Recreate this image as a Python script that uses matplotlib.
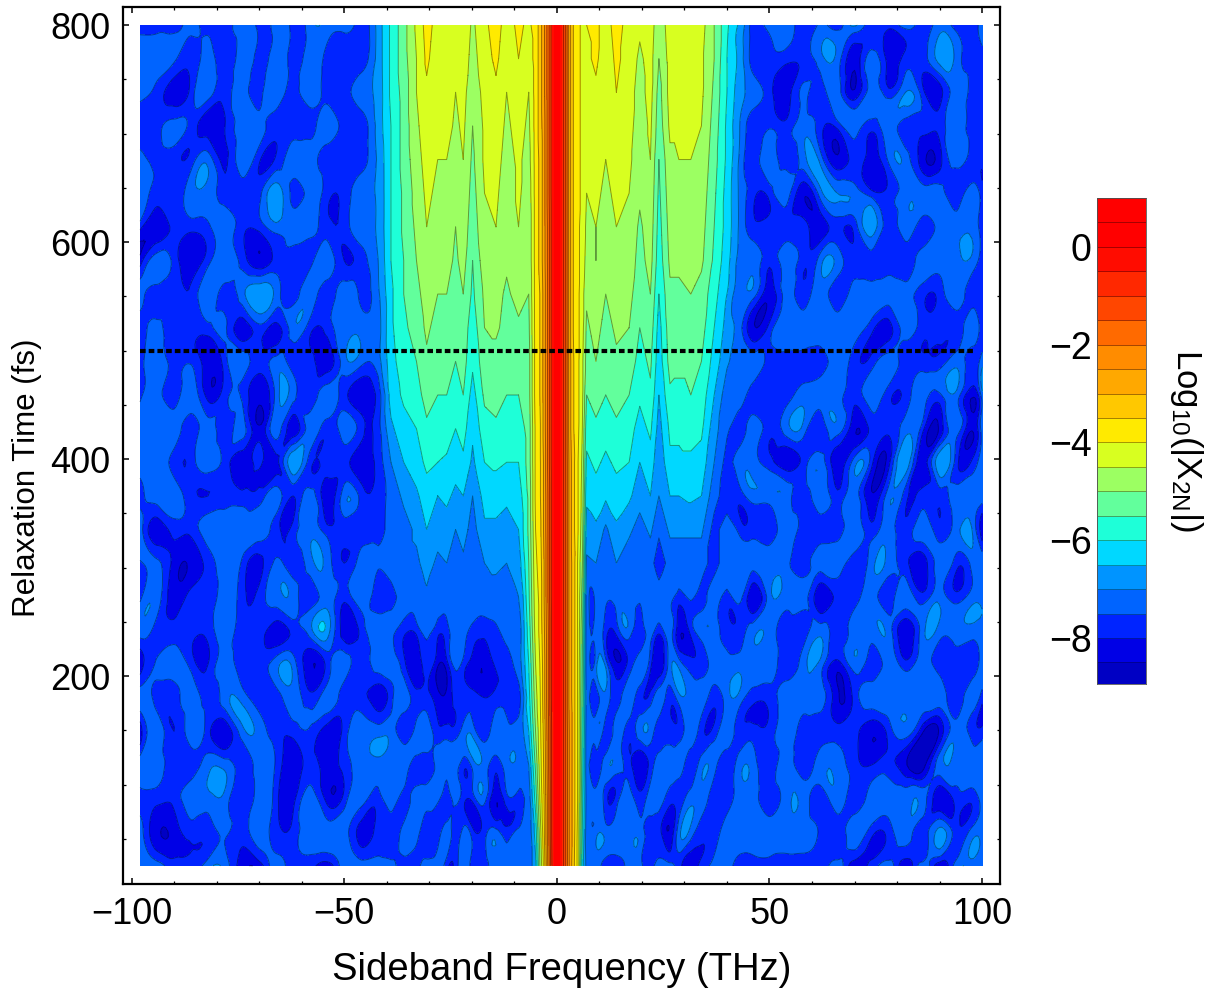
import numpy as np
import matplotlib
matplotlib.use("Agg")
import matplotlib.pyplot as plt
import matplotlib.tri as mtri
from matplotlib.ticker import MultipleLocator

plt.rcParams['font.family'] = ['Liberation Sans', 'DejaVu Sans']
plt.rcParams['mathtext.fontset'] = 'custom'
plt.rcParams['mathtext.rm'] = 'Liberation Sans'
plt.rcParams['mathtext.default'] = 'regular'

# relaxation time rows, top of the picture first (fs)
times = [800,769,738,707,676,645,614,583,552,521,490,459,428,397,366,335,304,273,242,211,180,149,118,87,56,25]

# all tables hold -Log10(|X2N|) in tenths
left_freqs = [-98,-94,-90,-86,-82,-78,-74,-70,-66,-62,-58,-54,-50,-46,-42]
left_noise = [
 [77,77,78,73,78,77,72,77,72,77,72,72,73,77,68],
 [72,72,74,78,73,79,72,77,72,77,72,77,78,78,68],
 [73,77,83,78,72,78,72,77,71,77,72,77,78,72,68],
 [79,77,73,77,83,80,72,73,78,78,77,72,78,78,68],
 [73,76,78,78,72,81,72,79,79,72,72,78,78,77,69],
 [72,77,78,72,72,78,78,77,67,77,72,78,78,72,69],
 [78,84,78,78,76,72,78,78,72,72,72,78,78,72,69],
 [83,72,77,83,77,72,77,84,78,77,77,72,80,77,70],
 [73,77,77,79,71,77,72,66,72,77,72,78,72,76,71],
 [77,74,78,78,77,74,83,77,82,72,78,78,72,72,72],
 [77,72,77,76,83,77,72,78,73,77,78,83,72,73,72],
 [77,72,78,72,82,77,76,84,73,73,78,72,78,84,78],
 [73,72,72,78,72,78,73,84,72,83,72,78,72,78,77],
 [72,72,77,78,72,77,84,79,82,66,78,77,78,83,78],
 [77,72,72,78,80,78,78,78,72,80,72,83,72,77,78],
 [72,83,78,78,72,72,72,72,78,78,72,78,78,78,77],
 [76,74,82,84,78,72,76,82,74,78,72,72,80,72,74],
 [77,72,83,78,78,72,78,78,72,72,78,72,78,72,78],
 [72,77,78,78,78,72,78,78,83,78,72,67,83,78,72],
 [83,74,72,77,80,72,78,78,72,72,84,78,72,78,72],
 [72,77,78,72,78,72,72,78,78,72,78,72,78,78,83],
 [83,72,80,72,78,84,72,72,78,78,76,83,78,72,72],
 [72,72,78,78,72,72,78,72,76,83,78,82,78,72,72],
 [77,78,78,72,72,72,80,72,78,82,72,82,78,72,77],
 [72,84,83,78,78,74,78,72,78,78,72,72,72,82,78],
 [74,72,78,78,72,72,83,83,72,78,78,83,72,72,72],
]

# central region, one list per frequency column, same time order
core_freqs = [-39,-36,-33,-30.6,-28,-25.9,-23.8,-22,-19.8,-17,-14.3,-11.8,-9,-6.6,-5,-4,-3,-2,-1,0,1,2,3,4,5,6,7,
              9.2,11.5,14,17,19.5,22,24,26.6,28.7,31.5,34,37,40,43]
core_columns = [
 [59,59,59,60,60,60,60,60,61,61,62,63,66,70,73,73,72,77,73,72,77,72,72,72,77,73],
 [52,52,53,53,53,54,54,55,55,56,57,59,62,65,69,72,72,73,78,78,72,78,72,77,73,78],
 [44,45,45,46,47,48,49,50,52,53,55,57,60,62,66,69,71,72,78,84,78,73,78,72,73,77],
 [38,39,41,42,43,44,45,46,47,49,51,53,56,59,62,65,68,71,73,77,78,72,78,73,78,72],
 [42,43,44,44,45,46,47,48,50,52,53,55,58,60,65,68,71,73,78,84,83,78,73,73,78,73],
 [41,42,42,43,45,46,47,48,50,51,53,55,57,61,64,67,70,72,77,82,84,78,72,78,72,78],
 [43,44,45,46,47,49,50,51,52,54,55,58,60,63,66,70,72,73,72,73,78,78,72,73,78,78],
 [41,42,43,44,45,46,47,48,50,52,53,55,58,61,65,68,71,73,72,77,78,73,78,78,73,72],
 [46,47,49,50,51,52,53,55,56,58,59,62,64,66,70,72,73,72,77,82,78,72,73,78,78,77],
 [41,42,43,44,44,45,46,47,49,50,52,54,57,60,63,66,70,72,78,84,80,78,72,73,77,78],
 [38,39,41,42,43,44,45,46,48,49,52,53,56,59,63,66,69,72,76,79,78,72,78,84,73,72],
 [42,43,45,46,47,48,48,49,51,52,53,55,58,60,64,67,70,72,73,78,78,73,72,77,78,73],
 [39,40,42,43,44,44,45,47,48,51,52,55,58,60,63,65,68,70,72,72,77,73,72,77,73,72],
 [41,43,45,46,47,48,49,49,50,51,52,52,53,53,54,54,55,56,58,60,62,65,70,73,74,74],
 [38,38,38,38,38,38,38,38,38,38,38,38,39,39,39,40,41,42,43,45,47,50,54,58,63,66],
 [33,33,33,33,34,34,34,34,35,35,35,35,36,36,36,37,38,39,39,40,41,42,43,45,48,50],
 [26,26,26,27,27,27,27,27,28,28,28,28,28,29,29,29,30,30,31,32,32,33,34,35,36,38],
 [17,17,17,17,17,17,18,18,18,18,18,18,18,18,19,19,19,19,20,20,20,21,21,22,22,23],
 [6,6,6,6,6,6,6,6,6,6,6,6,6,6,6,6,6,6,6,6,6,7,7,7,7,8],
 [-8,-8,-8,-8,-8,-8,-8,-8,-8,-8,-8,-8,-8,-8,-8,-8,-8,-8,-8,-8,-8,-8,-8,-8,-8,-8],
 [4,4,4,4,4,4,4,4,4,4,4,4,4,4,4,4,4,4,4,4,4,4,4,4,4,4],
 [14,14,14,14,14,14,14,14,14,14,14,14,14,14,14,14,14,14,14,14,14,14,14,14,14,14],
 [28,28,28,28,28,28,28,28,28,28,28,28,28,27,27,27,27,27,27,27,27,26,26,26,26,26],
 [36,36,36,36,36,36,36,36,36,36,35,35,35,34,34,34,33,33,33,33,33,33,33,33,33,34],
 [39,39,39,39,39,39,39,39,39,39,39,39,39,40,40,40,41,41,41,41,41,41,41,41,42,42],
 [41,41,41,41,41,41,42,42,43,43,44,44,45,46,47,48,50,52,54,55,56,57,58,59,60,62],
 [40,41,42,43,44,45,46,47,49,51,52,55,58,61,64,67,71,73,73,73,72,73,73,72,73,72],
 [39,39,41,42,43,44,45,45,47,48,50,53,56,59,62,66,70,73,72,72,78,72,78,72,72,72],
 [42,43,44,44,45,46,47,49,50,52,53,55,58,61,64,71,72,73,78,72,72,78,72,78,72,78],
 [38,39,40,41,43,44,45,46,47,49,51,53,56,59,62,66,70,72,78,84,78,72,72,78,72,78],
 [42,42,43,43,44,45,46,47,48,50,52,55,58,60,64,69,73,73,72,78,72,78,78,72,72,73],
 [44,46,47,48,48,49,51,52,54,55,57,59,62,65,68,72,73,73,78,72,78,72,84,78,72,72],
 [42,43,43,44,45,46,47,48,50,52,54,56,59,62,65,69,73,72,72,78,78,72,78,72,78,78],
 [49,50,52,53,55,56,57,58,60,62,63,65,67,69,70,74,78,73,78,84,72,78,72,72,78,72],
 [42,43,43,44,46,47,48,49,51,52,53,56,59,61,65,69,73,73,72,72,78,78,72,78,84,73],
 [41,42,43,44,45,47,48,49,51,53,54,56,59,61,65,69,73,77,83,72,72,78,72,78,72,78],
 [41,42,43,44,45,46,47,48,50,52,54,55,58,61,64,69,73,74,78,78,72,72,78,72,72,84],
 [43,44,44,45,46,47,48,49,52,53,55,57,59,62,65,69,73,77,72,78,72,78,72,72,78,78],
 [50,50,51,52,53,54,55,56,58,60,62,65,68,70,73,77,77,72,72,72,78,78,73,78,78,73],
 [59,60,60,61,61,62,62,63,65,67,69,73,74,77,78,72,72,77,78,72,72,72,78,78,72,72],
 [66,67,68,70,71,71,71,72,73,73,73,72,78,72,78,77,72,73,78,72,72,78,72,72,72,78],
]

right_freqs = [46,50,54,58,62,66,70,74,78,82,86,90,94,98,100]
right_noise = [
 [77,72,72,78,74,78,69,78,78,72,78,72,78,78,72],
 [77,78,78,78,72,72,83,72,82,78,78,68,72,78,77],
 [72,78,83,74,78,72,84,72,78,70,78,82,72,78,78],
 [78,76,78,72,78,78,72,78,72,78,78,78,72,78,78],
 [78,72,78,72,72,84,78,82,74,72,83,82,72,78,78],
 [78,78,72,84,72,70,72,78,78,72,72,72,78,72,78],
 [78,78,78,78,83,78,78,67,78,72,78,72,72,72,78],
 [72,78,72,78,72,72,78,78,78,78,72,72,72,72,78],
 [72,83,73,78,72,78,72,72,72,73,78,78,72,78,78],
 [84,78,72,72,72,72,72,78,82,72,78,78,78,72,78],
 [72,77,78,78,78,72,78,78,72,78,78,78,72,78,72],
 [78,78,78,72,72,72,78,72,78,78,73,76,72,84,72],
 [72,78,72,72,78,72,84,78,78,72,78,84,72,84,72],
 [72,78,83,78,72,83,72,78,82,66,83,66,78,78,72],
 [72,72,72,78,72,78,72,84,72,78,78,78,72,72,72],
 [78,78,72,78,78,78,72,78,72,78,72,78,72,72,84],
 [72,72,73,78,72,72,78,72,72,78,83,72,78,72,72],
 [84,72,72,72,84,78,78,72,78,72,78,72,78,72,72],
 [72,72,78,78,72,78,72,72,72,84,72,72,72,72,72],
 [72,72,78,72,72,82,72,78,72,78,72,78,78,78,72],
 [78,78,72,72,72,84,78,72,72,72,72,72,78,72,78],
 [78,78,72,78,78,78,78,84,78,72,84,84,72,78,78],
 [72,78,72,78,72,72,78,80,78,84,88,72,72,72,72],
 [72,78,72,72,78,72,78,72,72,72,72,84,78,78,72],
 [72,72,72,72,76,78,72,78,78,72,78,68,78,72,72],
 [78,78,78,78,78,72,84,78,72,84,72,84,72,72,72],
]

levels = [-9,-8.5,-8,-7.5,-7,-6.5,-6,-5.5,-5,-4.5,-4,-3.5,-3,-2.5,-2,-1.5,-1,-0.5,0,0.5,1]
band_colors = ['#0000c4','#0000e6','#0024ff','#0064ff','#0094ff','#00d8ff','#1effd8','#62ff9c',
               '#9cff62','#d8ff20','#ffea00','#ffc800','#ffa800','#ff8c00','#ff6a00','#ff4600',
               '#ff2800','#ff0c00','#ff0000','#ff0000']

guide_time = [500, 500]
guide_freq = [-98, 98]
x_ticks = [-100, -50, 0, 50, 100]
x_tick_labels = ['\u2212100', '\u221250', '0', '50', '100']
y_ticks = [200, 400, 600, 800]
cb_ticks = [0, -2, -4, -6, -8]
cb_tick_labels = ['0', '\u22122', '\u22124', '\u22126', '\u22128']

freqs = np.array(left_freqs + core_freqs + right_freqs, dtype=float)
Z = -np.hstack([np.array(left_noise), np.array(core_columns).T, np.array(right_noise)]) / 10.0
t = np.array(times, dtype=float)[::-1]
Z = Z[::-1]

# matplotlib's own refinement of the read grid: smooth in the noise floor, straight-sided in the
# plateau fingers and the central ridge, as in the reference.
# Each cell is split along the diagonal whose two corners agree best.
FF, TT = np.meshgrid(freqs, t)
nx, ny = len(freqs), len(t)
idx = np.arange(nx * ny).reshape(ny, nx)
tris = []
for j in range(ny - 1):
    for i in range(nx - 1):
        a, b, c, d = idx[j, i], idx[j, i + 1], idx[j + 1, i + 1], idx[j + 1, i]
        za, zb, zc, zd = Z[j, i], Z[j, i + 1], Z[j + 1, i + 1], Z[j + 1, i]
        if abs(zb - zd) + 0.25 < abs(za - zc):
            tris += [[a, b, d], [b, c, d]]
        else:
            tris += [[a, b, c], [a, c, d]]
tri = mtri.Triangulation(FF.ravel(), TT.ravel(), np.array(tris))
tri_fine, z_smooth = mtri.UniformTriRefiner(tri).refine_field(Z.ravel(), subdiv=3)
z_straight = np.ma.filled(mtri.LinearTriInterpolator(tri, Z.ravel())(tri_fine.x, tri_fine.y), np.nan)
z_straight = np.where(np.isnan(z_straight), z_smooth, z_straight)
plateau = np.clip((44 - np.abs(tri_fine.x)) / 5, 0, 1) * np.clip((tri_fine.y - 250) / 50, 0, 1)
ridge = np.clip((9 - np.abs(tri_fine.x)) / 2, 0, 1)
w = np.maximum(plateau, ridge)
z_fine = np.clip(w * z_straight + (1 - w) * z_smooth, -8.95, 0.95)

W, H = 1215, 994
fig = plt.figure(figsize=(W / 100, H / 100), dpi=100)
ax = fig.add_axes([123 / W, (H - 884) / H, 877 / W, 877 / H])
ax.tricontourf(tri_fine, z_fine, levels=levels, colors=band_colors, antialiased=False)
ax.tricontour(tri_fine, z_fine, levels=[v for v in levels if v < -0.5], colors='black',
              linewidths=0.7, alpha=0.4, linestyles='solid')
ax.plot(guide_freq, guide_time, color='black', lw=3.0, dashes=(1.35, 0.74))
ax.set_xlim(-102, 104.2)
ax.set_ylim(8.3, 816.6)
ax.set_xticks(x_ticks, x_tick_labels)
ax.set_yticks(y_ticks)
ax.xaxis.set_minor_locator(MultipleLocator(10))
ax.yaxis.set_minor_locator(MultipleLocator(50))
ax.tick_params(which='major', direction='in', length=4, width=1.1, top=True, right=True, labelsize=26, pad=9)
ax.tick_params(which='minor', direction='in', length=2.5, width=0.9, top=True, right=True)
for s in ax.spines.values():
    s.set_linewidth(1.6)
fig.text(562 / W, (H - 970) / H, 'Sideband Frequency (THz)', fontsize=27.5, ha='center', va='center')
fig.text(27 / W, (H - 478) / H, 'Relaxation Time (fs)', fontsize=22.5, rotation=90, ha='center', va='center')

cax = fig.add_axes([1097 / W, (H - 684) / H, 49 / W, 486 / H])
cax.pcolormesh([0, 1], levels, np.array(levels[:-1]).reshape(-1, 1) + 0.25,
               cmap=matplotlib.colors.ListedColormap(band_colors),
               norm=matplotlib.colors.BoundaryNorm(levels, len(band_colors)),
               edgecolors=(0, 0, 0, 0.35), linewidth=0.6)
cax.set_xlim(0, 1)
cax.set_ylim(-8.94, 1.0)
cax.set_xticks([])
cax.set_yticks(cb_ticks, cb_tick_labels)
cax.tick_params(length=0, labelsize=27, pad=4)
for s in cax.spines.values():
    s.set_linewidth(0.6)
    s.set_color('#555555')
fig.text(1186 / W, (H - 440) / H, r'Log$_{10}$(|X$_{2N}$|)', rotation=270, fontsize=25, ha='center', va='center')

fig.savefig('out.png', dpi=100, facecolor='white')
